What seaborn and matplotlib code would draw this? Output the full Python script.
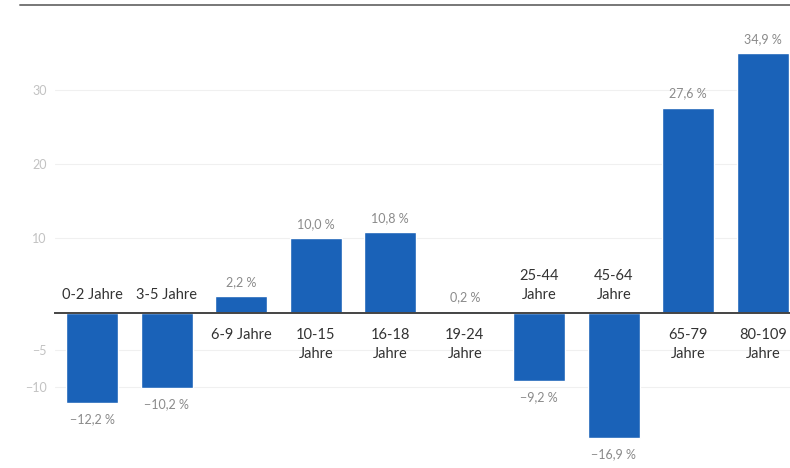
import matplotlib
matplotlib.use("Agg")
import pandas as pd
import seaborn as sns
import matplotlib.pyplot as plt
from matplotlib.lines import Line2D

# Veränderung der Altersgruppen in Prozent
categories = ["0-2 Jahre", "3-5 Jahre", "6-9 Jahre", "10-15\nJahre", "16-18\nJahre",
              "19-24\nJahre", "25-44\nJahre", "45-64\nJahre", "65-79\nJahre", "80-109\nJahre"]
values = [-12.2, -10.2, 2.2, 10.0, 10.8, 0.2, -9.2, -16.9, 27.6, 34.9]
yticks = [-10, -5, 10, 20, 30]

df = pd.DataFrame({"gruppe": categories, "wert": values})

sns.set_style("white")
plt.rcParams["font.family"] = ["Lato", "DejaVu Sans"]

fig = plt.figure(figsize=(7.9, 4.68), dpi=100)
ax = fig.add_axes([55 / 790, 0, 745 / 790, 463 / 468])

sns.barplot(data=df, x="gruppe", y="wert", color="#1a62b8", width=0.7,
            saturation=1, ax=ax, zorder=3)

ax.set_ylim(-20.9, 41.4)
ax.set_xlim(-0.5, len(categories) - 0.5)
ax.set_yticks(yticks)
ax.set_yticklabels([str(t).replace("-", "\u2212") for t in yticks])
ax.tick_params(axis="y", length=0, pad=6, labelsize=9, labelcolor="#c2c2c2")
ax.grid(axis="y", color="#f0f0f0", linewidth=0.8, zorder=0)
ax.set_xlabel("")
ax.set_ylabel("")

for s in ["top", "right", "left"]:
    ax.spines[s].set_visible(False)
ax.spines["bottom"].set_position(("data", 0))
ax.spines["bottom"].set_color("#444444")
ax.spines["bottom"].set_linewidth(1.4)
ax.spines["bottom"].set_zorder(4)
ax.tick_params(axis="x", direction="inout", length=6, width=1, color="#444444",
               labelbottom=False)

for i, (cat, v) in enumerate(zip(categories, values)):
    lab = f"{abs(v):.1f}".replace(".", ",") + " %"
    if v < 0:
        lab = "\u2212" + lab
        ax.annotate(lab, (i, v), xytext=(0, -7), textcoords="offset points",
                    ha="center", va="top", fontsize=9, color="#8a8a8a")
        ax.annotate(cat, (i, 0), xytext=(0, 8), textcoords="offset points",
                    ha="center", va="bottom", fontsize=10.5, color="#333333",
                    linespacing=1.45)
    else:
        ax.annotate(lab, (i, v), xytext=(0, 6), textcoords="offset points",
                    ha="center", va="bottom", fontsize=9, color="#8a8a8a")
        ax.annotate(cat, (i, 0), xytext=(0, -11), textcoords="offset points",
                    ha="center", va="top", fontsize=10.5, color="#333333",
                    linespacing=1.45)

fig.add_artist(Line2D([20 / 790, 1], [1 - 5 / 468, 1 - 5 / 468],
                      color="#777777", linewidth=1.4))

plt.savefig("out.png", dpi=100)
